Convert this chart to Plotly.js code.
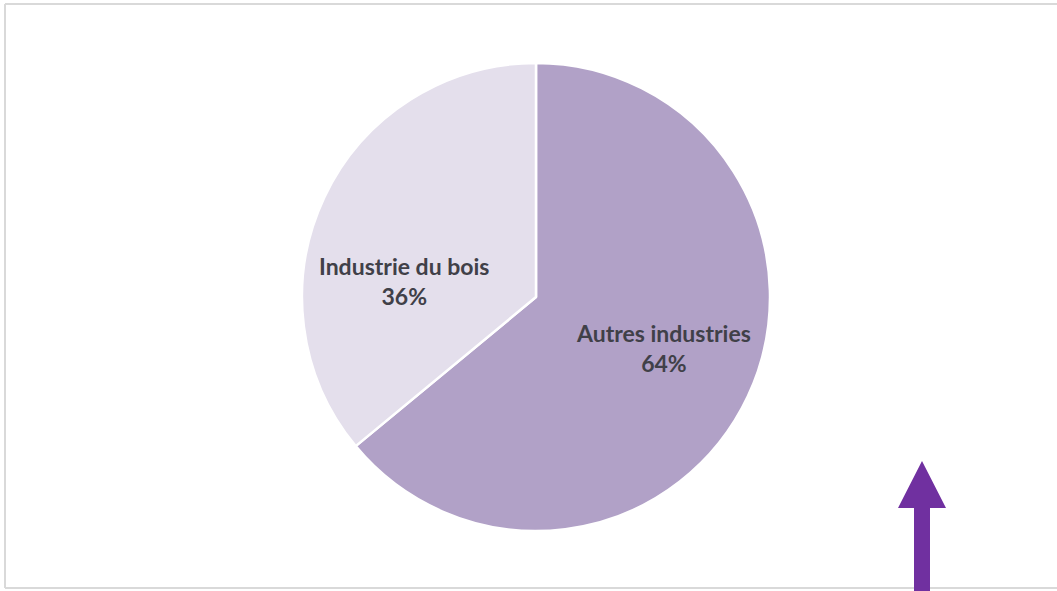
<!DOCTYPE html>
<html>
<head>
<meta charset="utf-8">
<script src="https://cdn.plot.ly/plotly-3.0.1.min.js"></script>
<style>html,body{margin:0;padding:0;background:#fff;}#chart{width:1057px;height:591px;}</style>
</head>
<body>
<div id="chart"></div>
<script>
const labels = ["Autres industries", "Industrie du bois"];
const values = [64, 36];
const colors = ["#B1A1C7", "#E4DFEC"];

const W = 1057, H = 591;
const px = x => x / W;
const py = y => 1 - y / H;

const total = values.reduce((a, b) => a + b, 0);
const labelPos = [[663, 348], [404, 281]];
const annotations = labels.map((l, i) => ({
  x: px(labelPos[i][0]), y: py(labelPos[i][1]), xref: "paper", yref: "paper",
  text: "<b>" + l + "<br>" + Math.round(values[i] / total * 100) + "%</b>",
  showarrow: false, xanchor: "center", yanchor: "middle",
  font: {family: "Lato, 'Open Sans', sans-serif", size: 23, color: "#404048"},
  align: "center"
}));

const trace = {
  type: "pie", labels: labels, values: values, sort: false,
  direction: "clockwise", rotation: 0,
  marker: {colors: colors, line: {color: "#ffffff", width: 2.5}},
  textinfo: "none", hoverinfo: "label+percent",
  domain: {x: [px(302), px(770)], y: [py(531), py(63)]},
  showlegend: false
};

const shapes = [
  {type: "line", xref: "paper", yref: "paper", x0: px(5), x1: px(1057), y0: py(4), y1: py(4), line: {color: "#D9D9D9", width: 2}},
  {type: "line", xref: "paper", yref: "paper", x0: px(5), x1: px(5), y0: py(4), y1: py(588), line: {color: "#D9D9D9", width: 2}},
  {type: "line", xref: "paper", yref: "paper", x0: px(5), x1: px(1057), y0: py(588), y1: py(588), line: {color: "#D9D9D9", width: 2}},
  {type: "path", xref: "paper", yref: "paper",
   path: `M ${px(914)} ${py(592)} L ${px(914)} ${py(508)} L ${px(898)} ${py(508)} L ${px(922)} ${py(461)} L ${px(946)} ${py(508)} L ${px(930)} ${py(508)} L ${px(930)} ${py(592)} Z`,
   fillcolor: "#7030A0", line: {width: 0}}
];

Plotly.newPlot("chart", [trace], {
  width: W, height: H, margin: {l: 0, r: 0, t: 0, b: 0},
  paper_bgcolor: "#ffffff", plot_bgcolor: "#ffffff",
  annotations: annotations, shapes: shapes
}, {displayModeBar: false, staticPlot: true});
</script>
</body>
</html>
